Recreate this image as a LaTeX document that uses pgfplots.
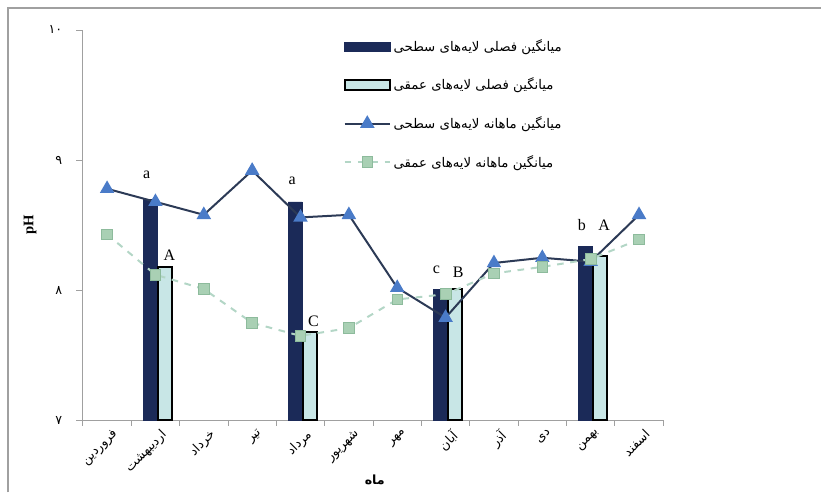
\documentclass[border=0pt]{standalone}
\usepackage{fontspec}
\usepackage{pgfplots}
\pgfplotsset{compat=1.18}
\setmainfont{Liberation Serif}
\newfontfamily\fa[Script=Arabic]{DejaVu Sans}
\TeXXeTstate=1
\newcommand{\R}[1]{{\fa\beginR #1\endR}}
\definecolor{navy}{HTML}{1B2A58}
\definecolor{lightbar}{HTML}{C8E6E6}
\definecolor{surfline}{HTML}{2C3A56}
\definecolor{surfmark}{HTML}{4A7BC8}
\definecolor{deepline}{HTML}{B3D6C6}
\definecolor{deepmark}{HTML}{A9D0B4}
\definecolor{deepmarkd}{HTML}{8DBB9C}
\definecolor{axgray}{HTML}{A0A0A0}
\pgfplotsset{
  barleg/.style={legend image code/.code={\draw[##1] (0pt,-3.5pt) rectangle (34pt,3.5pt);}},
  lineleg/.style={legend image code/.code={\draw[mark repeat=2, mark phase=2, ##1] plot coordinates {(0pt,0pt) (17pt,0pt) (34pt,0pt)};}},
}
\begin{document}
\begin{tikzpicture}
\path (0,0) rectangle (616.5pt,369.75pt);
\draw[color=axgray, line width=1.5pt] (6pt,0pt) -- (6pt,364pt) -- (616.5pt,364pt);
\begin{axis}[
  at={(62.25pt,54pt)}, anchor=south west,
  scale only axis, width=435.75pt, height=293.25pt,
  xmin=-0.5, xmax=11.5, ymin=7, ymax=10,
  axis lines*=left,
  axis line style={color=axgray, line width=0.8pt},
  clip=true,
  xtick={0,...,11},
  xticklabels={{\R{فروردین}},{\R{اردیبهشت}},{\R{خرداد}},{\R{تیر}},{\R{مرداد}},{\R{شهریور}},{\R{مهر}},{\R{آبان}},{\R{آذر}},{\R{دی}},{\R{بهمن}},{\R{اسفند}}},
  xticklabel style={rotate=45, anchor=north east, font=\fontsize{9.5}{10}\selectfont, xshift=3pt, yshift=-2pt, inner sep=1pt},
  major x tick style={draw=none},
  minor xtick={-0.5,0.5,...,11.5},
  minor tick length=4pt,
  minor x tick style={color=axgray, line width=0.6pt},
  tick align=outside,
  ytick={7,8,9,10},
  yticklabels={{\fa ۷},{\fa ۸},{\fa ۹},{\fa ۱۰}},
  yticklabel style={font=\fontsize{9.5}{10}\selectfont, xshift=-7pt},
  major y tick style={color=axgray, line width=0.6pt},
  major tick length=5pt,
  xlabel={\R{\bfseries ماه}},
  xlabel style={at={(axis description cs:0.503,-0.151)}, anchor=center, font=\fontsize{9.5}{10}\selectfont},
  ylabel={\textbf{pH}},
  ylabel style={at={(axis description cs:-0.091,0.501)}, anchor=center, rotate=0, font=\fontsize{11}{12}\selectfont},
  legend style={at={(0.442,0.99)}, anchor=north west, draw=none, fill=none,
    font=\fontsize{10}{11}\selectfont, row sep=14.5pt, legend cell align=left},
]
\addplot[ybar, bar width=10.5pt, bar shift=-4pt, fill=navy, draw=navy, barleg]
  coordinates {(1,8.70) (4,8.68) (7,8.01) (10,8.34)};
\addlegendentry{\R{میانگین فصلی لایه‌های سطحی}}
\addplot[ybar, bar width=10.5pt, bar shift=7pt, fill=lightbar, draw=black, line width=1.5pt, barleg]
  coordinates {(1,8.18) (4,7.68) (7,8.01) (10,8.26)};
\addlegendentry{\R{میانگین فصلی لایه‌های عمقی}}
\addplot[color=surfline, line width=1.5pt, mark=triangle*, mark size=4.8pt,
  mark options={fill=surfmark, draw=surfmark, solid}, lineleg]
  coordinates {(0,8.78) (1,8.68) (2,8.58) (3,8.92) (4,8.56) (5,8.58) (6,8.02) (7,7.79) (8,8.21) (9,8.25) (10,8.22) (11,8.58)};
\addlegendentry{\R{میانگین ماهانه لایه‌های سطحی}}
\addplot[color=deepline, line width=1.5pt, dash pattern=on 5pt off 5pt, mark=square*, mark size=4pt,
  mark options={fill=deepmark, draw=deepmarkd, solid, line width=0.6pt}, lineleg]
  coordinates {(0,8.43) (1,8.12) (2,8.01) (3,7.75) (4,7.65) (5,7.71) (6,7.93) (7,7.97) (8,8.13) (9,8.18) (10,8.24) (11,8.39)};
\addlegendentry{\R{میانگین ماهانه لایه‌های عمقی}}
\node[font=\fontsize{12}{14}\selectfont] at (axis cs:0.82,8.89) {a};
\node[font=\fontsize{12}{14}\selectfont] at (axis cs:1.29,8.27) {A};
\node[font=\fontsize{12}{14}\selectfont] at (axis cs:3.83,8.84) {a};
\node[font=\fontsize{12}{14}\selectfont] at (axis cs:4.27,7.76) {C};
\node[font=\fontsize{12}{14}\selectfont] at (axis cs:6.81,8.16) {c};
\node[font=\fontsize{12}{14}\selectfont] at (axis cs:7.26,8.14) {B};
\node[font=\fontsize{12}{14}\selectfont] at (axis cs:9.82,8.50) {b};
\node[font=\fontsize{12}{14}\selectfont] at (axis cs:10.28,8.50) {A};
\end{axis}
\end{tikzpicture}
\end{document}
